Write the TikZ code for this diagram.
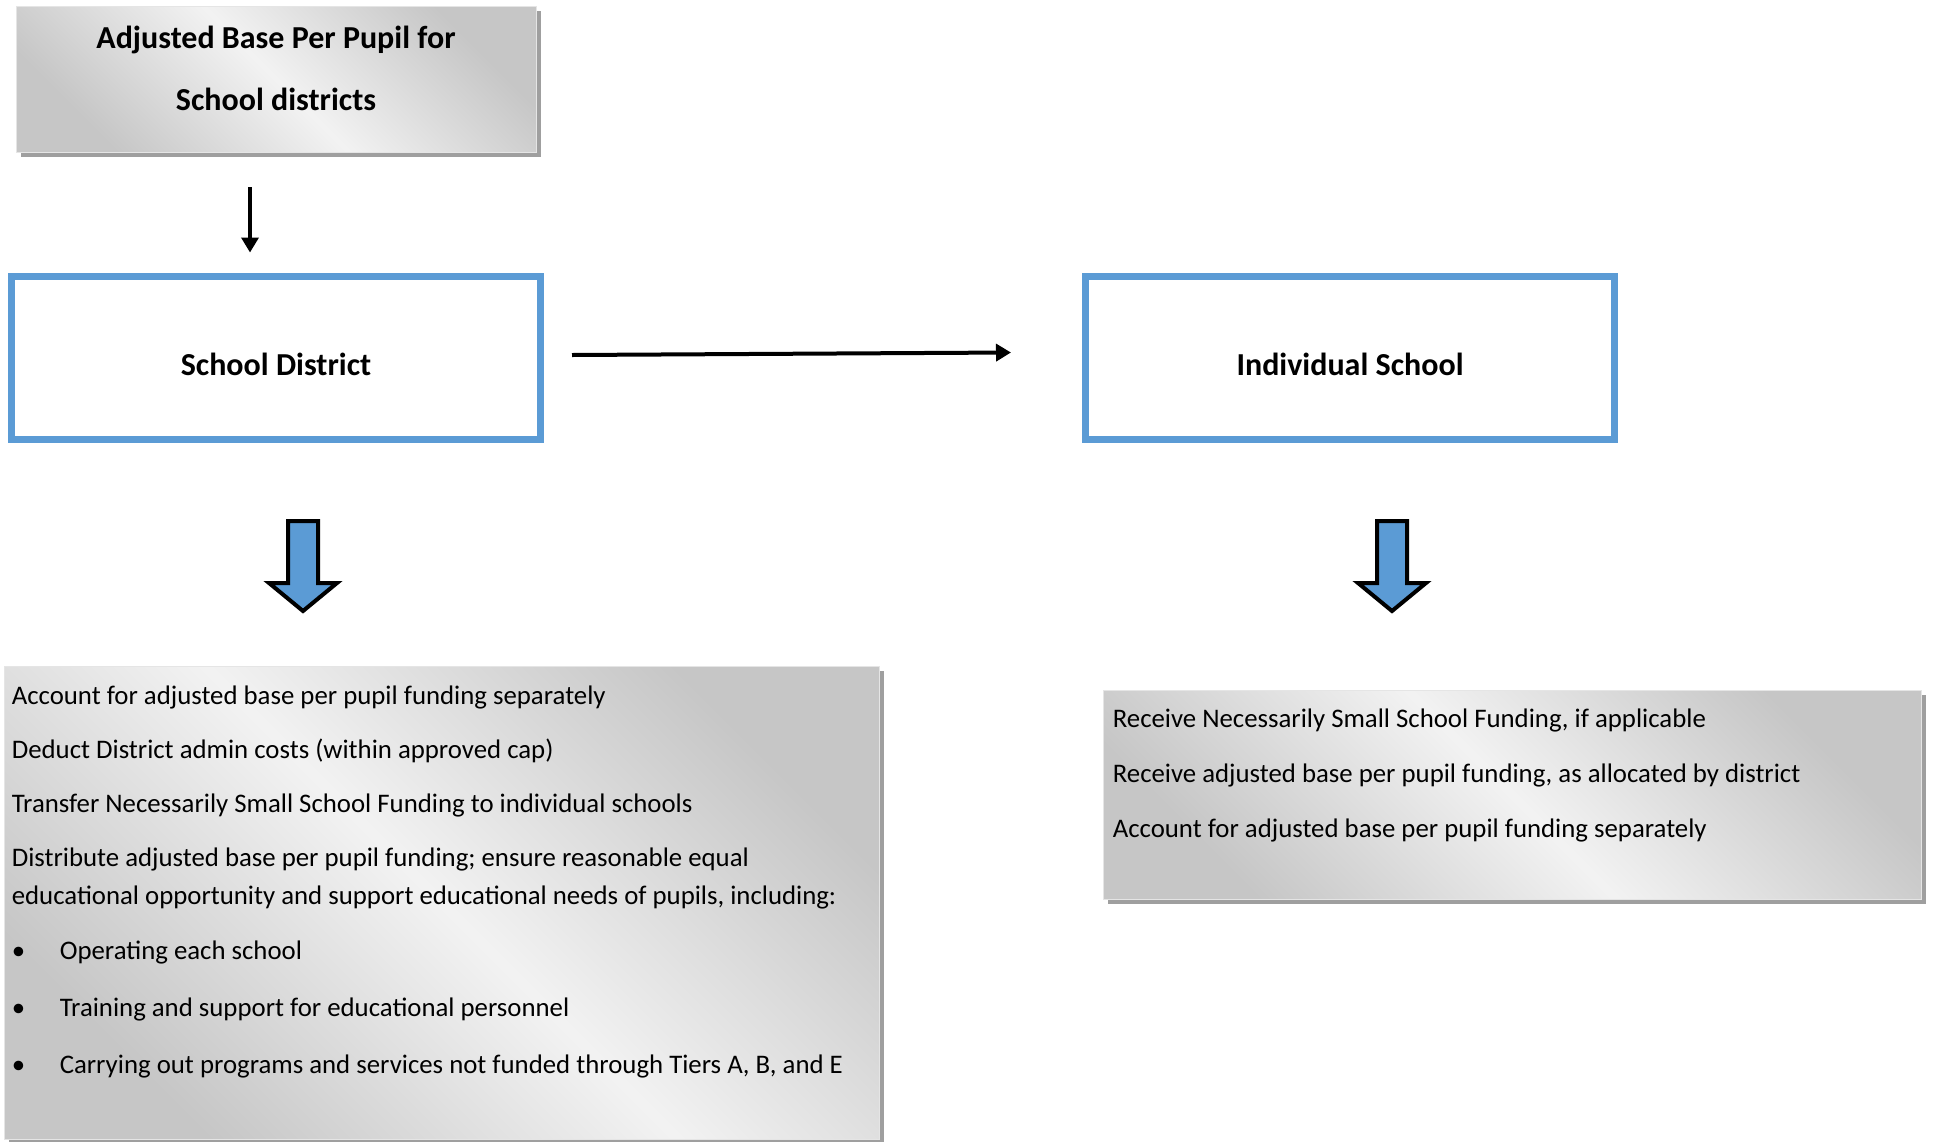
\documentclass[tikz,border=0pt]{standalone}
\usepackage{fontspec}
\setmainfont{Carlito}
\usetikzlibrary{arrows.meta,shadows,positioning}
\definecolor{bluebrd}{RGB}{91,155,213}
\tikzstyle{edge} = [draw, line width=4pt, -{Triangle[length=15pt,width=17pt]}]
\tikzstyle{blockarrow} = [draw=black, line width=4pt, fill=bluebrd, line join=miter]
\tikzset{
  graybox/.style = {rectangle, draw=gray!20, line width=0.8pt, top color=gray!45, bottom color=gray!45,
    middle color=gray!10, shading angle=-45,
    drop shadow={shadow xshift=5pt, shadow yshift=-5pt, fill=gray!75, opacity=1}},
  bluebox/.style = {rectangle, draw=bluebrd, line width=7pt, fill=white, minimum width=529pt,
    minimum height=163pt, text height=35pt, text depth=0pt,
    font=\fontsize{32}{38}\selectfont\bfseries},% cadre bleu
  listtext/.style = {anchor=north west, inner sep=0pt, align=left, font=\fontsize{26.8}{38}\selectfont},
}
\newcommand{\bitem}{\makebox[48pt][l]{\textbullet}}

\begin{document}
\begin{tikzpicture}[x=1pt,y=-1pt]
  \useasboundingbox (0,0) rectangle (1933,1141);

  \node[graybox, minimum width=520pt, minimum height=146pt, align=center, text depth=22pt,
        font=\fontsize{32}{62}\selectfont\bfseries] (abase) at (276,79) {Adjusted Base Per Pupil for\\School districts};
  \node[bluebox] (district) at (276,357.5) {School District};
  \node[bluebox] (school) at (1350,357.5) {Individual School};

  \node[graybox, minimum width=875pt, minimum height=473pt] (dtasks) at (441.5,902.5) {};
  \node[graybox, minimum width=818pt, minimum height=209pt] (stasks) at (1512,794.5) {};

  \node[listtext] (dlist) at ([shift={(8pt,-20pt)}]dtasks.north west) {%
    Account for adjusted base per pupil funding separately\\[16pt]
    Deduct District admin costs (within approved cap)\\[16pt]
    Transfer Necessarily Small School Funding to individual schools\\[16pt]
    Distribute adjusted base per pupil funding; ensure reasonable equal\\
    educational opportunity and support educational needs of pupils, including:\\[17pt]
    \bitem Operating each school\\[19pt]
    \bitem Training and support for educational personnel\\[19pt]
    \bitem Carrying out programs and services not funded through Tiers A, B, and E};
  \node[listtext] (slist) at ([shift={(10pt,-19pt)}]stasks.north west) {%
    Receive Necessarily Small School Funding, if applicable\\[17pt]
    Receive adjusted base per pupil funding, as allocated by district\\[17pt]
    Account for adjusted base per pupil funding separately};

  \path[edge, line width=3.5pt] ([xshift=-26pt,yshift=-35pt]abase.south) -- ([xshift=-26pt,yshift=20pt]district.north);
  \path[edge] ([shift={(28pt,2.5pt)}]district.east) -- ([shift={(-71pt,5pt)}]school.west);

  % fleches bleues
  \foreach \cx in {303,1392}
    \draw[blockarrow] (\cx-15,521) -- (\cx+15,521) -- (\cx+15,583) -- (\cx+34,583)
      -- (\cx,611) -- (\cx-34,583) -- (\cx-15,583) -- cycle;
\end{tikzpicture}
\end{document}
